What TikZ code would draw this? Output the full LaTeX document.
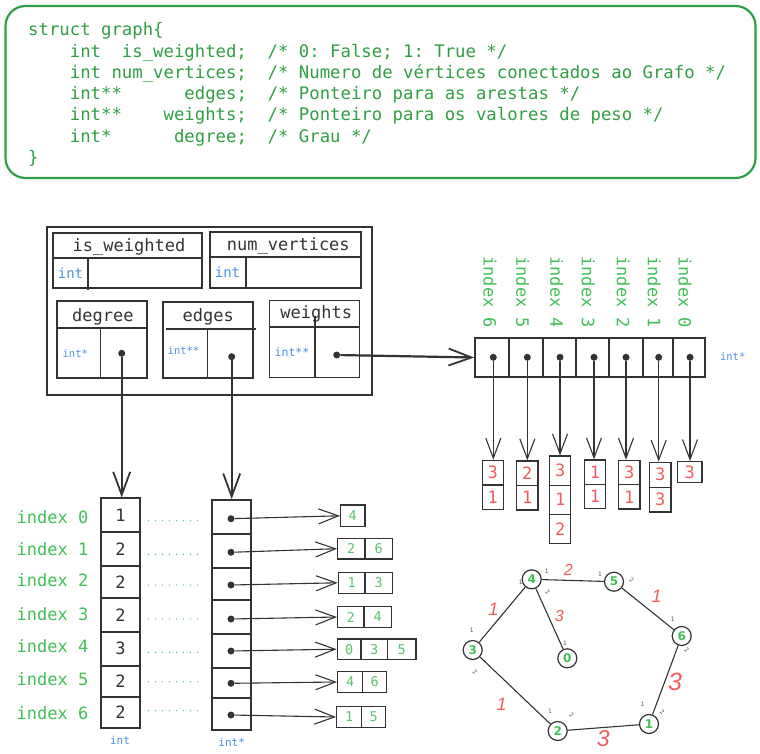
\documentclass[tikz,border=0pt]{standalone}
\usepackage{fontspec}
\newfontfamily\mono{DejaVu Sans Mono}
\newfontfamily\gsans{DejaVu Sans}
\newfontfamily\hand{Liberation Sans}
\usetikzlibrary{arrows.meta}
\frenchspacing
\newcommand\setfs[1]{\fontsize{#1}{#1}\selectfont}
\definecolor{codegreen}{HTML}{2F9E44}
\definecolor{idxgreen}{HTML}{40C057}
\definecolor{valgreen}{HTML}{5CC26C}
\definecolor{intblue}{HTML}{4A90E2}
\definecolor{valred}{HTML}{F25C5C}
\definecolor{inkc}{HTML}{333333}
\definecolor{tickc}{HTML}{555555}
\tikzset{
  codetxt/.style={anchor=base west, inner sep=0pt, font=\mono\setfs{17.3}, text=codegreen},
  fieldbox/.style={draw=inkc, line width=1.6pt},
  fieldlbl/.style={anchor=base, inner sep=0pt, font=\mono\setfs{17}, text=inkc},
  inttxt/.style={inner sep=0pt, font=\mono\setfs{#1}, text=intblue},
  dotn/.style={circle, fill=inkc, inner sep=0pt, minimum size=7pt},
  idxtop/.style={rotate=-90, inner sep=0pt, font=\mono\setfs{17}, text=idxgreen},
  idxleft/.style={anchor=east, inner sep=0pt, font=\mono\setfs{17}, text=idxgreen},
  wcell/.style={draw=inkc, line width=1.8pt, inner sep=0pt, minimum height=38.4pt},
  redcell/.style={draw=inkc, line width=1.3pt, inner sep=0pt, font=\mono\setfs{17}, text=valred},
  greencell/.style={draw=inkc, line width=1.3pt, inner sep=0pt, font=\mono\setfs{13.5}, text=valgreen},
  degcell/.style={draw=inkc, line width=1.8pt, inner sep=0pt, minimum width=39pt, font=\mono\setfs{17}, text=inkc},
  ptrcell/.style={draw=inkc, line width=1.8pt, inner sep=0pt, minimum width=38.7pt},
  bigarrow/.style={draw=inkc, line width=2.2pt, -{Straight Barb[length=23pt,width=17pt,line width=1.8pt]}},
  thinarrow/.style={draw=inkc, line width=1.1pt, -{Straight Barb[length=20pt,width=15pt]}},
  dotsline/.style={draw=idxgreen, line width=1.4pt, line cap=round, dash pattern=on 0pt off 7pt},
  gnode/.style={circle, draw=inkc, line width=1.2pt, minimum size=19pt, inner sep=0pt, font=\gsans\bfseries\setfs{12}, text=idxgreen},
  gedge/.style={draw=inkc, line width=1.1pt},
  wlbl/.style={inner sep=0pt, font=\hand\itshape\setfs{#1}, text=valred},
  tickl/.style={inner sep=0pt, font=\gsans\setfs{6}, text=tickc},
}
\begin{document}
\begin{tikzpicture}[x=1pt,y=-1pt]
\useasboundingbox (0,0) rectangle (760,754);

% ---------- code box ----------
\node[draw=codegreen, line width=2.2pt, rounded corners=20pt, minimum width=750pt, minimum height=172pt, inner sep=0pt] (codebox) at (380.5,92) {};
\node[codetxt] (c0) at (28,36) {struct graph\{};
\node[codetxt] (c1) at (28,57.3) {~~~~int~~is\_weighted;~~/*~0:~False;~1:~True~*/};
\node[codetxt] (c2) at (28,78.5) {~~~~int num\_vertices;~~/* Numero de vértices conectados ao Grafo */};
\node[codetxt] (c3) at (28,99.8) {~~~~int**~~~~~~edges;~~/* Ponteiro para as arestas */};
\node[codetxt] (c4) at (28,121) {~~~~int**~~~~weights;~~/* Ponteiro para os valores de peso */};
\node[codetxt] (c5) at (28,142.2) {~~~~int*~~~~~~degree;~~/* Grau */};
\node[codetxt] (c6) at (28,163.5) {\}};

% ---------- struct box ----------
\node[draw=inkc, line width=1.8pt, minimum width=325pt, minimum height=168pt, inner sep=0pt] (struct) at (209.2,311) {};
% is_weighted
\draw[fieldbox] (53,233) rectangle (202,288);
\draw[fieldbox] (52,257.7) -- (202,257.7);
\draw[fieldbox] (87.7,257.7) -- (87.7,290);
\node[fieldlbl] (lisw) at (129,251.5) {is\_weighted};
\node[inttxt=14] (tisw) at (70.5,273.3) {int};
% num_vertices
\draw[fieldbox] (210,232) rectangle (361,288);
\draw[fieldbox] (210,257) -- (361,257);
\draw[fieldbox] (245.7,257) -- (245.7,288);
\node[fieldlbl] (lnv) at (288.3,251) {num\_vertices};
\node[inttxt=14] (tnv) at (227.5,271.7) {int};
% degree
\draw[fieldbox] (56.7,300.7) rectangle (146.7,377.7);
\draw[fieldbox] (56.7,328) -- (147.5,328);
\draw[fieldbox] (100.3,326.7) -- (100.3,377.7);
\node[fieldlbl] (ldeg) at (102.8,321.7) {degree};
\node[inttxt=10.5] (tdeg) at (75.3,353.3) {int*};
\node[dotn] (ddeg) at (121.7,353.3) {};
% edges
\draw[fieldbox] (163,301.7) rectangle (252.7,378);
\draw[fieldbox] (166,329) -- (255.7,329);
\draw[fieldbox] (207.3,329) -- (207.3,378);
\node[fieldlbl] (ledg) at (208.3,321.7) {edges};
\node[inttxt=10.5] (tedg) at (183.5,351) {int**};
\node[dotn] (dedg) at (231.7,356.7) {};
% weights
\draw[fieldbox] (269.3,300.3) rectangle (359.3,377.3);
\draw[fieldbox] (269.3,326.7) -- (359.3,326.7);
\draw[fieldbox] (315,316) -- (315,377.3);
\node[fieldlbl] (lwt) at (316.3,318.3) {weights};
\node[inttxt=11.5] (twt) at (292,351.7) {int**};
\node[dotn] (dwt) at (336.7,355) {};

% ---------- weights array (top right) ----------
\node[wcell, minimum width=34.3pt] (w6) at (492.15,357.5) {};
\node[wcell, minimum width=33.4pt] (w5) at (526,357.5) {};
\node[wcell, minimum width=33pt]   (w4) at (559.2,357.5) {};
\node[wcell, minimum width=33.3pt] (w3) at (592.35,357.5) {};
\node[wcell, minimum width=33.7pt] (w2) at (625.85,357.5) {};
\node[wcell, minimum width=30.6pt] (w1) at (658,357.5) {};
\node[wcell, minimum width=31.7pt] (w0) at (689.15,357.5) {};
\foreach \i/\x in {6/493.3,5/527.3,4/560,3/594,2/626,1/658.7,0/690}{
  \node[dotn] (wd\i) at (\x,357.3) {};
}
\node[idxtop] (it6) at (490,292.3) {index 6};
\node[idxtop] (it5) at (522.7,292.3) {index 5};
\node[idxtop] (it4) at (556.7,292.3) {index 4};
\node[idxtop] (it3) at (588.3,292.3) {index 3};
\node[idxtop] (it2) at (623.3,292.3) {index 2};
\node[idxtop] (it1) at (654.3,292.3) {index 1};
\node[idxtop] (it0) at (685,292.3) {index 0};
\node[inttxt=10.5] (tw) at (732.7,356.7) {int*};
\draw[bigarrow] (dwt) -- (w6.west);

% ---------- small weight arrays ----------
\node[redcell, minimum width=21pt, minimum height=24.5pt] (s6a) at (492.8,472.6) {3};
\node[redcell, minimum width=21pt, minimum height=24.5pt] (s6b) at (492.8,497.1) {1};
\node[redcell, minimum width=21.3pt, minimum height=24.5pt] (s5a) at (527.3,473.25) {2};
\node[redcell, minimum width=21.3pt, minimum height=24.5pt] (s5b) at (527.3,497.75) {1};
\node[redcell, minimum width=21pt, minimum height=29.1pt] (s4a) at (560.2,470.6) {3};
\node[redcell, minimum width=21pt, minimum height=29.1pt] (s4b) at (560.2,499.7) {1};
\node[redcell, minimum width=21pt, minimum height=29.1pt] (s4c) at (560.2,528.8) {2};
\node[redcell, minimum width=21.4pt, minimum height=24.4pt] (s3a) at (595,472.2) {1};
\node[redcell, minimum width=21.4pt, minimum height=24.4pt] (s3b) at (595,496.5) {1};
\node[redcell, minimum width=21.3pt, minimum height=24.4pt] (s2a) at (629.3,472.5) {3};
\node[redcell, minimum width=21.3pt, minimum height=24.4pt] (s2b) at (629.3,496.8) {1};
\node[redcell, minimum width=21.3pt, minimum height=24.9pt] (s1a) at (660.3,474.7) {3};
\node[redcell, minimum width=21.3pt, minimum height=24.9pt] (s1b) at (660.3,499.6) {3};
\node[redcell, minimum width=24.7pt, minimum height=21pt] (s0a) at (689.7,472.2) {3};
\foreach \i in {6,5,4,3,2,1,0}{
  \draw[thinarrow] (wd\i) -- (wd\i |- s\i a.north);
}

% ---------- degree array ----------
\node[degcell, minimum height=33.4pt] (dg0) at (120.5,515) {1};
\node[degcell, minimum height=34pt]   (dg1) at (120.5,548.7) {2};
\node[degcell, minimum height=32.6pt] (dg2) at (120.5,582) {2};
\node[degcell, minimum height=33.4pt] (dg3) at (120.5,615) {2};
\node[degcell, minimum height=34pt]   (dg4) at (120.5,648.7) {3};
\node[degcell, minimum height=31pt]   (dg5) at (120.5,681.2) {2};
\node[degcell, minimum height=31pt]   (dg6) at (120.5,712.2) {2};
\node[inttxt=11] (tdg) at (120,740) {int};

\node[idxleft] (il0) at (88.5,517.3) {index 0};
\node[idxleft] (il1) at (88.5,549) {index 1};
\node[idxleft] (il2) at (88.5,580) {index 2};
\node[idxleft] (il3) at (88.5,614.3) {index 3};
\node[idxleft] (il4) at (88.5,645.7) {index 4};
\node[idxleft] (il5) at (88.5,679.3) {index 5};
\node[idxleft] (il6) at (88.5,713.3) {index 6};

% ---------- edges pointer array ----------
\node[ptrcell, minimum height=34pt]   (ec0) at (231.35,517) {};
\node[ptrcell, minimum height=33.7pt] (ec1) at (231.35,550.85) {};
\node[ptrcell, minimum height=32.6pt] (ec2) at (231.35,584) {};
\node[ptrcell, minimum height=34pt]   (ec3) at (231.35,617.3) {};
\node[ptrcell, minimum height=33.4pt] (ec4) at (231.35,651) {};
\node[ptrcell, minimum height=30.6pt] (ec5) at (231.35,683) {};
\node[ptrcell, minimum height=31.7pt] (ec6) at (231.35,714.15) {};
\foreach \i/\y in {0/518.7,1/552.3,2/585,3/619,4/651,5/683.3,6/715}{
  \node[dotn] (ed\i) at (231,\y) {};
}
\node[inttxt=11] (tec) at (231.7,742.3) {int*};

% dotted links
\foreach \y in {520.7,554.3,585,619,652.3,681.7,710.7}{
  \draw[dotsline] (148.5,\y) -- (204,\y);
}

% main arrows
\draw[bigarrow] (ddeg) -- (ddeg |- dg0.north);
\draw[bigarrow] (dedg) -- (dedg |- ec0.north);

% ---------- adjacency lists ----------
\node[greencell, minimum width=24.3pt, minimum height=21.7pt] (e0a) at (352.8,515.8) {4};
\node[greencell, minimum width=27.3pt, minimum height=20.7pt] (e1a) at (351.3,548.7) {2};
\node[greencell, minimum width=27.3pt, minimum height=20.7pt] (e1b) at (378.7,548.7) {6};
\node[greencell, minimum width=26.7pt, minimum height=21pt] (e2a) at (351.7,582.8) {1};
\node[greencell, minimum width=27.7pt, minimum height=21pt] (e2b) at (378.8,582.8) {3};
\node[greencell, minimum width=26.3pt, minimum height=20.6pt] (e3a) at (350.8,617) {2};
\node[greencell, minimum width=27.7pt, minimum height=20.6pt] (e3b) at (377.8,617) {4};
\node[greencell, minimum width=23.7pt, minimum height=20.3pt] (e4a) at (349.2,649.2) {0};
\node[greencell, minimum width=26.7pt, minimum height=20.3pt] (e4b) at (374.3,649.2) {3};
\node[greencell, minimum width=28.3pt, minimum height=20.3pt] (e4c) at (401.8,649.2) {5};
\node[greencell, minimum width=25pt, minimum height=20.6pt] (e5a) at (350.2,682) {4};
\node[greencell, minimum width=24pt, minimum height=20.6pt] (e5b) at (374.7,682) {6};
\node[greencell, minimum width=25pt, minimum height=20.6pt] (e6a) at (349.2,717) {1};
\node[greencell, minimum width=24pt, minimum height=20.6pt] (e6b) at (373.7,717) {5};
\foreach \i in {0,...,6}{
  \draw[thinarrow] (ed\i) -- (e\i a.west);
}

% ---------- graph ----------
\node[gnode] (g4) at (531.7,579.3) {4};
\node[gnode] (g5) at (614,581.7) {5};
\node[gnode] (g6) at (681.7,636) {6};
\node[gnode] (g3) at (472.7,650) {3};
\node[gnode] (g0) at (567.3,658.3) {0};
\node[gnode] (g2) at (557.7,731) {2};
\node[gnode] (g1) at (649,724) {1};
\draw[gedge] (g4) -- (g5);
\draw[gedge] (g4) -- (g0);
\draw[gedge] (g4) -- (g3);
\draw[gedge] (g5) -- (g6);
\draw[gedge] (g6) -- (g1);
\draw[gedge] (g1) -- (g2);
\draw[gedge] (g2) -- (g3);
\node[wlbl=16] (w45) at (568.3,570) {2};
\node[wlbl=16] (w40) at (559.3,616) {3};
\node[wlbl=18] (w43) at (493.3,609.3) {1};
\node[wlbl=18] (w56) at (656.7,596.7) {1};
\node[wlbl=25] (w61) at (675,681.7) {3};
\node[wlbl=23] (w12) at (603.3,738.3) {3};
\node[wlbl=18] (w23) at (501.7,704) {1};
% small cardinality marks
\node[tickl] (k1) at (520.7,582.7) {1};
\node[tickl] (k2) at (546.7,571) {1};
\node[tickl, rotate=-40] (k3) at (547.7,591.7) {2};
\node[tickl] (k4) at (600,574) {1};
\node[tickl, rotate=-40] (k5) at (631.7,580) {2};
\node[tickl] (k6) at (672.7,619.3) {1};
\node[tickl, rotate=-40] (k7) at (686.7,650) {2};
\node[tickl] (k8) at (471.7,630.7) {1};
\node[tickl, rotate=-40] (k9) at (475,671.7) {2};
\node[tickl] (k10) at (565,643.3) {1};
\node[tickl] (k11) at (550,711.7) {1};
\node[tickl, rotate=-40] (k12) at (571.7,715) {2};
\node[tickl] (k13) at (642.7,704) {1};
\node[tickl, rotate=-40] (k14) at (662.3,711.7) {2};
\end{tikzpicture}
\end{document}
